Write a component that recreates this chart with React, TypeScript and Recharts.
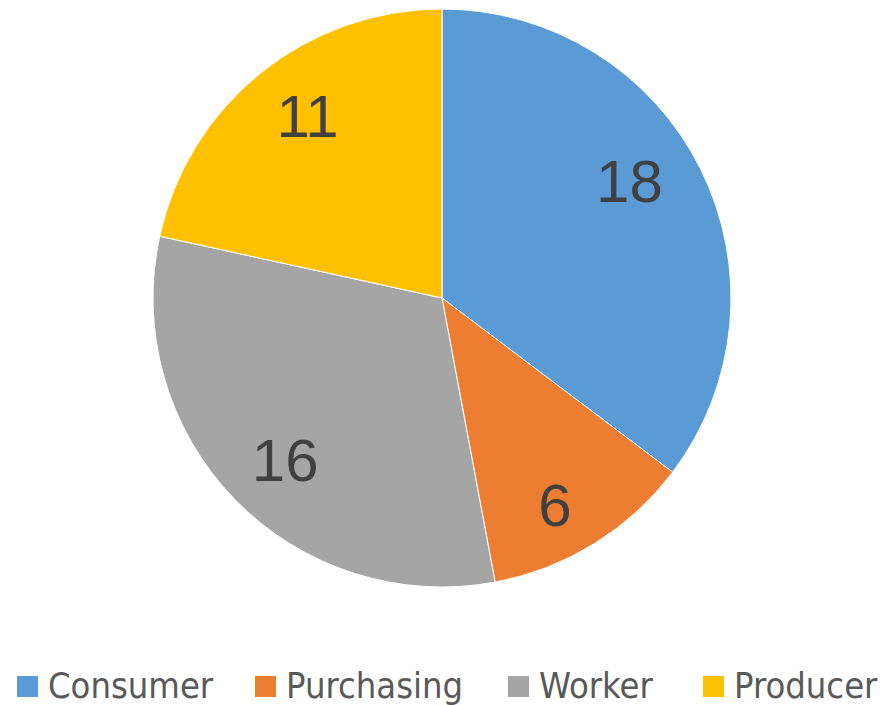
import { Cell, Pie, PieChart } from 'recharts';

const CATEGORIES = ['Consumer', 'Purchasing', 'Worker', 'Producer'];
const VALUES = [18, 6, 16, 11];
const COLORS = ['#5B9BD5', '#ED7D31', '#A5A5A5', '#FFC000'];

const RADIAN = Math.PI / 180;

const data = CATEGORIES.map((name, i) => ({ name, value: VALUES[i] }));

// small best-fit style nudges for the data labels, like the source chart
const LABEL_NUDGE = [[-13, -17], [-5, 17], [4, 7], [6, -7]];
// legend item left edges (square) in chart pixels
const LEGEND_X = [9, 247, 500, 695];

function renderLabel(props: any) {
  const { cx, cy, midAngle, outerRadius, value, index } = props;
  const r = outerRadius * 0.775;
  const [nx, ny] = LABEL_NUDGE[index] ?? [0, 0];
  const x = cx + r * Math.cos(-midAngle * RADIAN) + nx;
  const y = cy + r * Math.sin(-midAngle * RADIAN) + ny;
  return (
    <text x={x} y={y} fill="#404040" fontSize={60} fontFamily="'Liberation Sans', Arial, sans-serif" textAnchor="middle" dominantBaseline="central">
      {value}
    </text>
  );
}

export default function App() {
  return (
    <div style={{ position: 'relative', width: 880, height: 697, background: '#fff' }}>
      <PieChart width={880} height={640} margin={{ top: 0, right: 0, bottom: 0, left: 0 }}>
        <Pie
          data={data}
          dataKey="value"
          nameKey="name"
          cx={434}
          cy={290}
          outerRadius={289}
          startAngle={90}
          endAngle={-270}
          stroke="#fff"
          strokeWidth={1}
          label={renderLabel}
          labelLine={false}
          isAnimationActive={false}
        >
          {data.map((d, i) => (
            <Cell key={d.name} fill={COLORS[i]} />
          ))}
        </Pie>
      </PieChart>
      {CATEGORIES.map((c, i) => (
        <span
          key={c}
          style={{ position: 'absolute', left: LEGEND_X[i], top: 658, display: 'flex', alignItems: 'center', whiteSpace: 'nowrap', fontFamily: "'Liberation Sans Narrow', 'DejaVu Sans Condensed', sans-serif", fontSize: 36, color: '#595959', lineHeight: '40px' }}
        >
          <i style={{ display: 'inline-block', width: 21, height: 21, background: COLORS[i], marginRight: 10 }} />
          {c}
        </span>
      ))}
    </div>
  );
}
